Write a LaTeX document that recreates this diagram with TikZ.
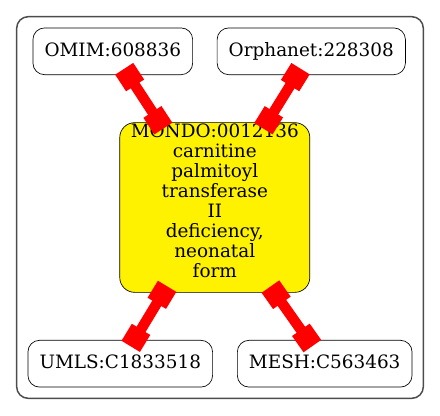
\documentclass[tikz,border=0pt]{standalone}
\usepackage{fontspec}
\setmainfont{DejaVu Serif}
\usetikzlibrary{arrows.meta,fit}

\begin{document}
\begin{tikzpicture}[node distance=94.2pt,
    every node/.style={font=\fontsize{11.1}{12}\selectfont},
    leaf/.style={rectangle, rounded corners=7pt, draw, minimum height=28.2pt, inner xsep=7pt, text height=8.6pt, text depth=2.6pt},
    link/.style={draw=red, line width=6.3pt, {Square[length=12pt,width=13pt]}-{Square[length=12pt,width=13pt]}, shorten <=-4.5pt, shorten >=-4.5pt}]
    \node[rectangle, rounded corners=9pt, draw, fill=yellow, align=center, minimum width=114.6pt, minimum height=102pt, inner sep=1pt, text depth=8.1pt] (mondo) {MONDO:0012136\\carnitine\\palmitoyl\\transferase\\II\\deficiency,\\neonatal\\form};
    \node[leaf, above of=mondo, xshift=-61.5pt] (omim) {OMIM:608836};
    \node[leaf, above of=mondo, xshift=58.2pt] (orphanet) {Orphanet:228308};
    \node[leaf, below of=mondo, xshift=-57pt] (umls) {UMLS:C1833518};
    \node[leaf, below of=mondo, xshift=66.3pt] (mesh) {MESH:C563463};
    \node[draw=black!70, line width=0.9pt, rounded corners=7pt, inner sep=6.6pt, fit=(omim)(orphanet)(umls)(mesh)] (cluster) {};
    \draw[link] (omim) -- (mondo);
    \draw[link] (orphanet) -- (mondo);
    \draw[link] (mondo) -- (umls);
    \draw[link] (mondo) -- (mesh);
    \useasboundingbox ([shift={(-9.6pt,9.6pt)}]cluster.north west) rectangle ([shift={(9.6pt,-9.6pt)}]cluster.south east);
\end{tikzpicture}
\end{document}
